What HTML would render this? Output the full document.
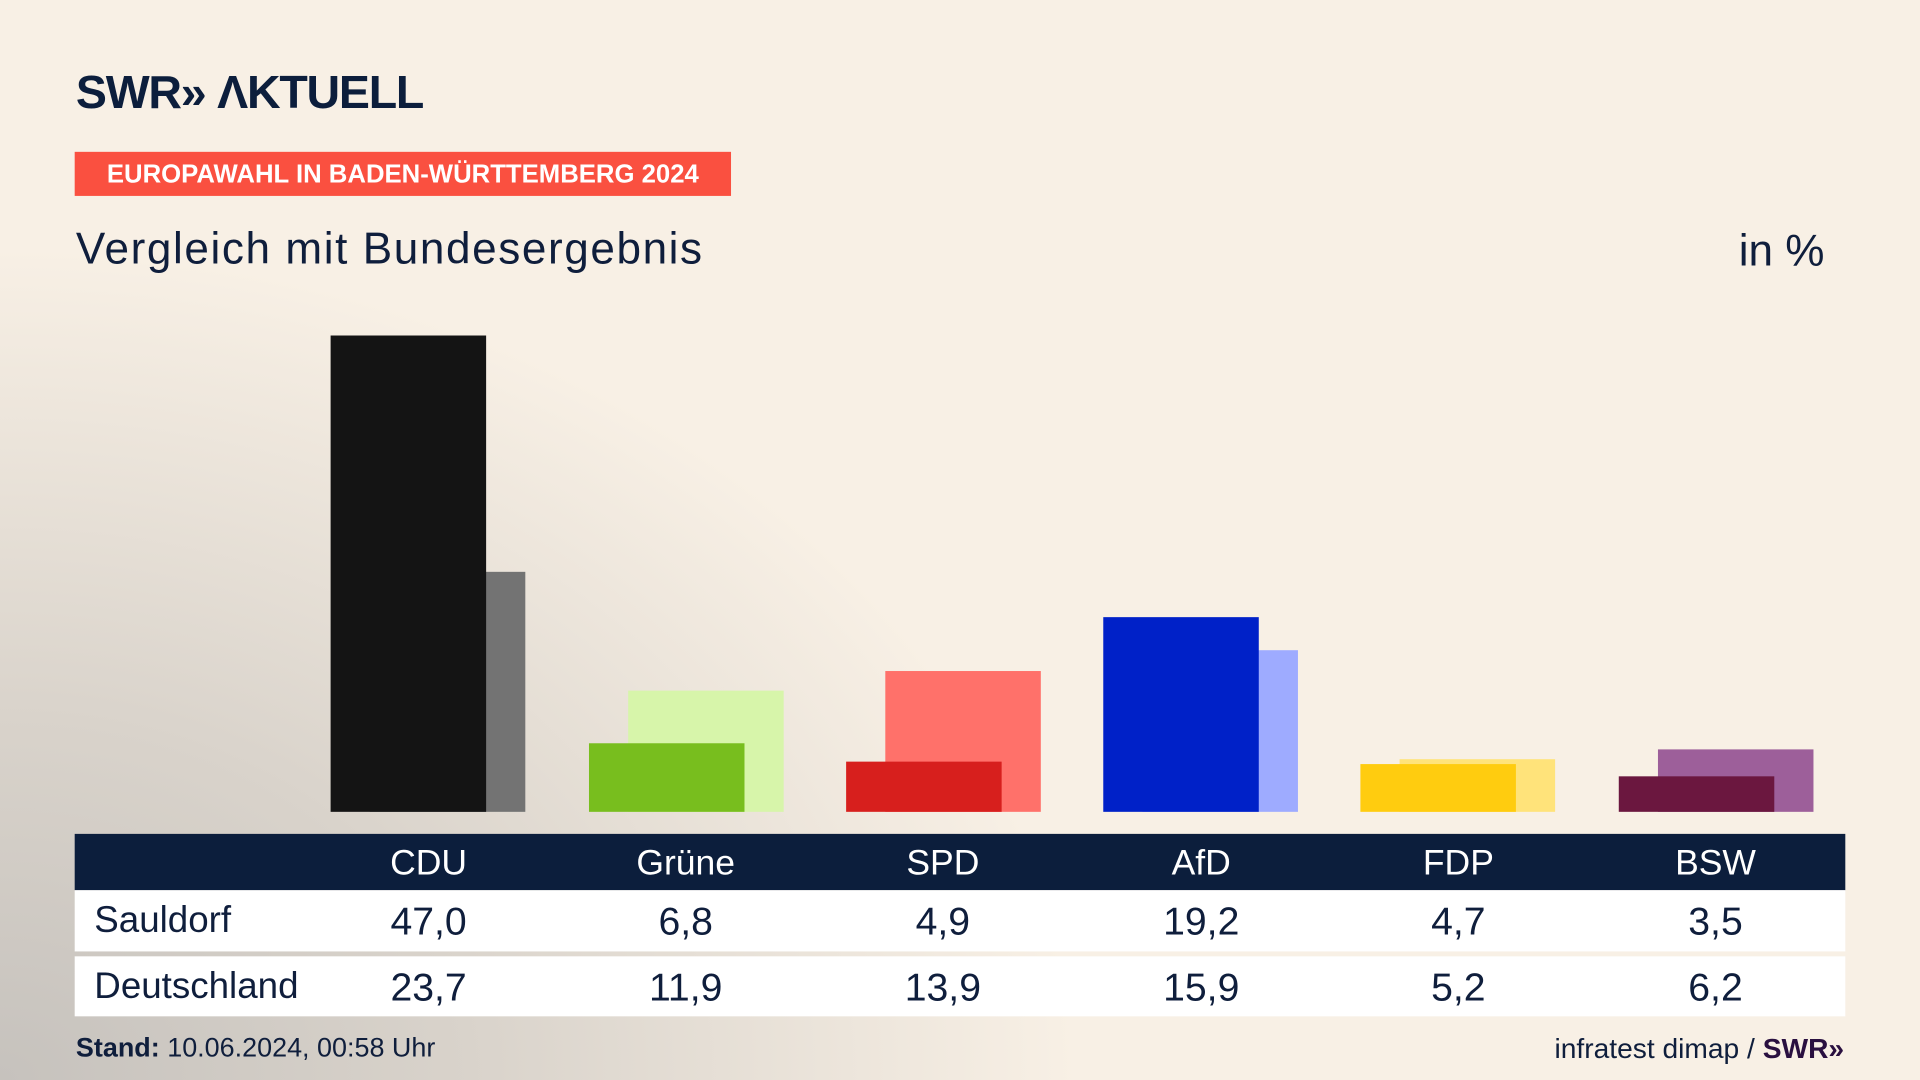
<!DOCTYPE html>
<html><head><meta charset="utf-8"><style>
html,body{margin:0;padding:0;width:1920px;height:1080px;overflow:hidden}
#w{position:absolute;left:0;top:0;width:1568px;height:882px;transform:scale(1.22449);transform-origin:0 0;
background:radial-gradient(ellipse 1100px 850px at 0px 882px,#c6c2bd 0%,#d9d3cb 35%,rgba(240,232,221,0) 80%),#f8f0e5;
font-family:"Liberation Sans",sans-serif;color:#0f1e3c}
.a{position:absolute}
.bar{position:absolute;width:127px}
.h{position:absolute;top:681px;height:46px;width:160px;margin-left:-80px;text-align:center;color:#fff;font-size:29px;line-height:48px}
.c{position:absolute;width:160px;margin-left:-80px;text-align:center;font-size:32px}
</style></head><body><div id="w">
<div class="a" style="left:62px;top:55px;font-size:38px;font-weight:bold;letter-spacing:-1px;color:#0c1e3c;white-space:nowrap">SWR&#187; &#923;KTUELL</div>
<div class="a" style="left:61px;top:124px;width:536px;height:36px;background:#fa5040;color:#fff;font-weight:bold;font-size:21px;line-height:38px;text-align:center;white-space:nowrap">EUROPAWAHL IN BADEN-WÜRTTEMBERG 2024</div>
<div class="a" style="left:62px;top:182px;font-size:36px;letter-spacing:1.3px;white-space:nowrap">Vergleich mit Bundesergebnis</div>
<div class="a" style="right:78px;top:184px;font-size:36px">in %</div>

<div class="bar" style="left:302px;top:467px;height:196px;background:#737373"></div>
<div class="bar" style="left:270px;top:274px;height:389px;background:#141414"></div>
<div class="bar" style="left:513px;top:564px;height:99px;background:#d7f5aa"></div>
<div class="bar" style="left:481px;top:607px;height:56px;background:#78be1e"></div>
<div class="bar" style="left:723px;top:548px;height:115px;background:#ff716a"></div>
<div class="bar" style="left:691px;top:622px;height:41px;background:#d71f1d"></div>
<div class="bar" style="left:933px;top:531px;height:132px;background:#9eabff"></div>
<div class="bar" style="left:901px;top:504px;height:159px;background:#0021c8"></div>
<div class="bar" style="left:1143px;top:620px;height:43px;background:#ffe37a"></div>
<div class="bar" style="left:1111px;top:624px;height:39px;background:#ffcc0f"></div>
<div class="bar" style="left:1354px;top:612px;height:51px;background:#9d5f9a"></div>
<div class="bar" style="left:1322px;top:634px;height:29px;background:#6b173f"></div>

<div class="a" style="left:61px;top:681px;width:1446px;height:46px;background:#0c1e3c"></div>
<div class="a" style="left:61px;top:727px;width:1446px;height:50px;background:#fff"></div>
<div class="a" style="left:61px;top:781px;width:1446px;height:49px;background:#fff"></div>
<div class="h" style="left:350px">CDU</div><div class="h" style="left:560px">Grüne</div><div class="h" style="left:770px">SPD</div><div class="h" style="left:981px">AfD</div><div class="h" style="left:1191px">FDP</div><div class="h" style="left:1401px">BSW</div>
<div class="a" style="left:77px;top:735px;font-size:30px">Sauldorf</div>
<div class="a" style="left:77px;top:789px;font-size:30px">Deutschland</div>
<div class="c" style="left:350px;top:734px">47,0</div><div class="c" style="left:560px;top:734px">6,8</div><div class="c" style="left:770px;top:734px">4,9</div><div class="c" style="left:981px;top:734px">19,2</div><div class="c" style="left:1191px;top:734px">4,7</div><div class="c" style="left:1401px;top:734px">3,5</div>
<div class="c" style="left:350px;top:788px">23,7</div><div class="c" style="left:560px;top:788px">11,9</div><div class="c" style="left:770px;top:788px">13,9</div><div class="c" style="left:981px;top:788px">15,9</div><div class="c" style="left:1191px;top:788px">5,2</div><div class="c" style="left:1401px;top:788px">6,2</div>
<div class="a" style="left:62px;top:843px;font-size:22px;white-space:nowrap"><b>Stand:</b> 10.06.2024, 00:58 Uhr</div>
<div class="a" style="right:62px;top:843px;font-size:23px;white-space:nowrap">infratest dimap / <b style="color:#2a1040">SWR&#187;</b></div>
</div></body></html>
